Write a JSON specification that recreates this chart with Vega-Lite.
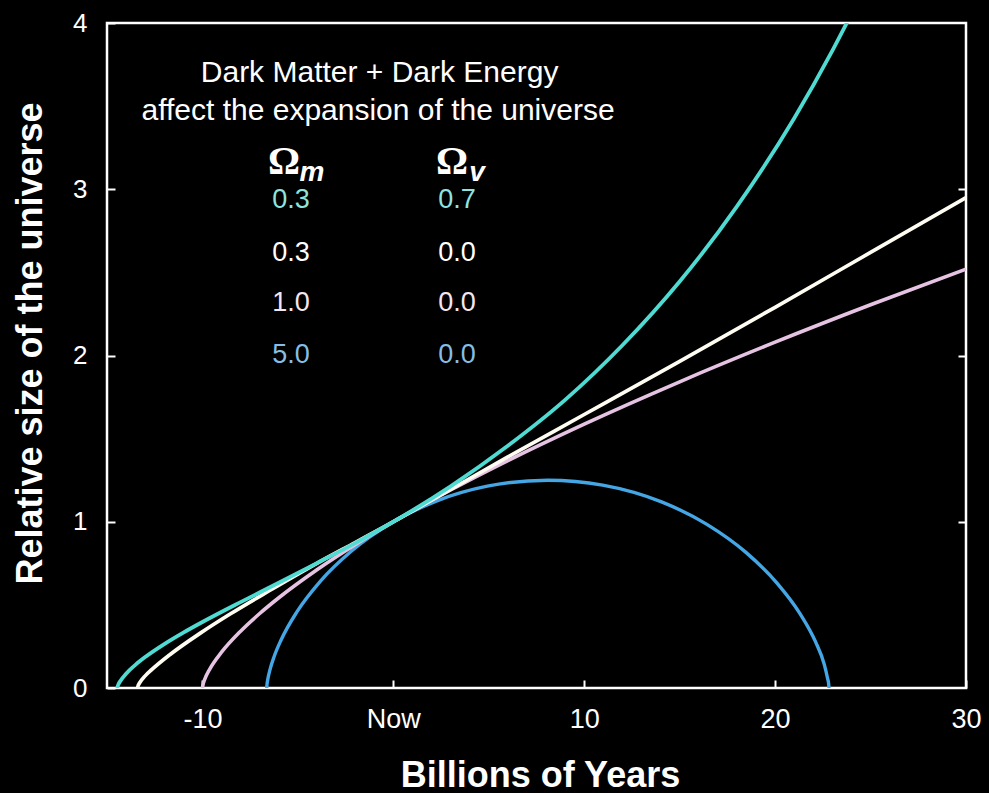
{
  "$schema": "https://vega.github.io/schema/vega-lite/v6.json",
  "width": 859,
  "height": 665,
  "autosize": {"type": "none"},
  "padding": {"left": 107, "top": 23, "right": 23, "bottom": 105},
  "background": "#000000",
  "config": {
    "view": {"stroke": "#ffffff", "strokeWidth": 2.5},
    "font": "Liberation Sans"
  },
  "datasets": {
    "curves": [
      {"series": "b", "t": -6.63, "a": 0},
      {"series": "b", "t": -6.624, "a": 0.0125},
      {"series": "b", "t": -6.58, "a": 0.0493},
      {"series": "b", "t": -6.464, "a": 0.1092},
      {"series": "b", "t": -6.243, "a": 0.1896},
      {"series": "b", "t": -5.887, "a": 0.2873},
      {"series": "b", "t": -5.053, "a": 0.4578},
      {"series": "b", "t": -3.816, "a": 0.6433},
      {"series": "b", "t": -2.16, "a": 0.8271},
      {"series": "b", "t": 0, "a": 1.0},
      {"series": "b", "t": 2.283, "a": 1.1257},
      {"series": "b", "t": 4.925, "a": 1.2139},
      {"series": "b", "t": 8.096, "a": 1.25},
      {"series": "b", "t": 10.964, "a": 1.2205},
      {"series": "b", "t": 14.051, "a": 1.1194},
      {"series": "b", "t": 16.425, "a": 0.9843},
      {"series": "b", "t": 18.456, "a": 0.8171},
      {"series": "b", "t": 20.088, "a": 0.6328},
      {"series": "b", "t": 21.302, "a": 0.4477},
      {"series": "b", "t": 22.115, "a": 0.2785},
      {"series": "b", "t": 22.579, "a": 0.1403},
      {"series": "b", "t": 22.749, "a": 0.0571},
      {"series": "b", "t": 22.805, "a": 0.0249},
      {"series": "b", "t": 22.822, "a": 0},
      {"series": "p", "t": -10, "a": 0},
      {"series": "p", "t": -9.97, "a": 0.0208},
      {"series": "p", "t": -9.9, "a": 0.0464},
      {"series": "p", "t": -9.6, "a": 0.117},
      {"series": "p", "t": -9, "a": 0.2154},
      {"series": "p", "t": -8, "a": 0.342},
      {"series": "p", "t": -7, "a": 0.4481},
      {"series": "p", "t": -6, "a": 0.5429},
      {"series": "p", "t": -4, "a": 0.7114},
      {"series": "p", "t": -2, "a": 0.8618},
      {"series": "p", "t": 0, "a": 1.0},
      {"series": "p", "t": 3, "a": 1.1911},
      {"series": "p", "t": 6, "a": 1.368},
      {"series": "p", "t": 10, "a": 1.5874},
      {"series": "p", "t": 15, "a": 1.842},
      {"series": "p", "t": 20, "a": 2.0801},
      {"series": "p", "t": 25, "a": 2.3052},
      {"series": "p", "t": 30, "a": 2.5198},
      {"series": "w", "t": -13.4, "a": 0},
      {"series": "w", "t": -13.38, "a": 0.01},
      {"series": "w", "t": -13.3, "a": 0.029},
      {"series": "w", "t": -13.0, "a": 0.073},
      {"series": "w", "t": -12.66, "a": 0.11},
      {"series": "w", "t": -11.71, "a": 0.2},
      {"series": "w", "t": -10.11, "a": 0.33},
      {"series": "w", "t": -8.55, "a": 0.445},
      {"series": "w", "t": -6.5, "a": 0.585},
      {"series": "w", "t": -3.82, "a": 0.762},
      {"series": "w", "t": -2, "a": 0.875},
      {"series": "w", "t": 0, "a": 1.0},
      {"series": "w", "t": 3, "a": 1.195},
      {"series": "w", "t": 6, "a": 1.39},
      {"series": "w", "t": 10, "a": 1.645},
      {"series": "w", "t": 15, "a": 1.965},
      {"series": "w", "t": 20, "a": 2.29},
      {"series": "w", "t": 25, "a": 2.62},
      {"series": "w", "t": 30, "a": 2.95},
      {"series": "c", "t": -14.46, "a": 0},
      {"series": "c", "t": -14.44, "a": 0.0106},
      {"series": "c", "t": -14.4, "a": 0.0221},
      {"series": "c", "t": -14.3, "a": 0.0425},
      {"series": "c", "t": -14.0, "a": 0.086},
      {"series": "c", "t": -13.5, "a": 0.1404},
      {"series": "c", "t": -13, "a": 0.186},
      {"series": "c", "t": -12, "a": 0.2641},
      {"series": "c", "t": -11, "a": 0.3331},
      {"series": "c", "t": -10, "a": 0.3969},
      {"series": "c", "t": -8, "a": 0.5166},
      {"series": "c", "t": -6, "a": 0.6327},
      {"series": "c", "t": -4, "a": 0.7512},
      {"series": "c", "t": -2, "a": 0.8719},
      {"series": "c", "t": 0, "a": 1.0},
      {"series": "c", "t": 3, "a": 1.2131},
      {"series": "c", "t": 6, "a": 1.4568},
      {"series": "c", "t": 9, "a": 1.7328},
      {"series": "c", "t": 12, "a": 2.0614},
      {"series": "c", "t": 15, "a": 2.445},
      {"series": "c", "t": 18, "a": 2.897},
      {"series": "c", "t": 21, "a": 3.4274},
      {"series": "c", "t": 23, "a": 3.834},
      {"series": "c", "t": 24, "a": 4.055}
    ],
    "titles": [
      {"t": -0.72, "a": 3.7, "label": "Dark Matter + Dark Energy"},
      {"t": -0.8, "a": 3.471, "label": "affect the expansion of the universe"}
    ],
    "omegas": [
      {"t": -5.73, "a": 3.164, "label": "Ω"},
      {"t": 3.07, "a": 3.164, "label": "Ω"}
    ],
    "subs": [
      {"t": -4.26, "a": 3.1, "label": "m"},
      {"t": 4.38, "a": 3.098, "label": "v"}
    ],
    "numbers": [
      {"series": "c", "t": -5.36, "a": 2.935, "label": "0.3"},
      {"series": "c", "t": 3.34, "a": 2.935, "label": "0.7"},
      {"series": "w", "t": -5.36, "a": 2.617, "label": "0.3"},
      {"series": "w", "t": 3.34, "a": 2.617, "label": "0.0"},
      {"series": "p", "t": -5.36, "a": 2.316, "label": "1.0"},
      {"series": "p", "t": 3.34, "a": 2.316, "label": "0.0"},
      {"series": "b", "t": -5.36, "a": 2.003, "label": "5.0"},
      {"series": "b", "t": 3.34, "a": 2.003, "label": "0.0"}
    ]
  },
  "layer": [
    {
      "data": {"name": "curves"},
      "mark": {"type": "line", "interpolate": "monotone", "clip": true},
      "encoding": {
        "x": {
          "field": "t", "type": "quantitative",
          "scale": {"domain": [-15, 30], "nice": false, "zero": false},
          "axis": {
            "values": [-10, 0, 10, 20, 30],
            "labelExpr": "datum.value == 0 ? 'Now' : '' + datum.value",
            "grid": false, "domain": false,
            "tickSize": -8, "tickColor": "#ffffff", "tickWidth": 2,
            "labelColor": "#ffffff", "labelFontSize": 27, "labelPadding": 26,
            "labelFlush": false, "labelOverlap": false,
            "title": "Billions of Years", "titleColor": "#ffffff",
            "titleFontSize": 36, "titleFontWeight": "bold",
            "titleX": 433, "titleY": 87, "titleBaseline": "middle", "titleAlign": "center"
          }
        },
        "y": {
          "field": "a", "type": "quantitative",
          "scale": {"domain": [0, 4], "nice": false},
          "axis": {
            "orient": "left",
            "values": [0, 1, 2, 3, 4],
            "grid": false, "domain": false,
            "tickSize": -8, "tickColor": "#ffffff", "tickWidth": 2,
            "labelColor": "#ffffff", "labelFontSize": 26, "labelPadding": 28,
            "labelOverlap": false,
            "title": "Relative size of the universe", "titleColor": "#ffffff",
            "titleFontSize": 36, "titleFontWeight": "bold",
            "titleX": -77, "titleY": 320, "titleBaseline": "middle", "titleAlign": "center", "titleAngle": -90
          }
        },
        "color": {
          "field": "series", "type": "nominal",
          "scale": {"domain": ["c", "w", "p", "b"], "range": ["#4fdad2", "#fffdf2", "#e6c3e3", "#44a6e4"]},
          "legend": null
        },
        "strokeWidth": {
          "field": "series", "type": "nominal",
          "scale": {"domain": ["c", "w", "p", "b"], "range": [3.8, 3.4, 2.8, 2.8]},
          "legend": null
        }
      }
    },
    {
      "data": {"name": "numbers"},
      "mark": {"type": "text", "align": "center", "baseline": "middle", "fontSize": 27, "font": "Liberation Sans"},
      "encoding": {
        "x": {"field": "t", "type": "quantitative", "scale": {"domain": [-15, 30], "nice": false, "zero": false}},
        "y": {
          "field": "a", "type": "quantitative",
          "scale": {"domain": [0, 4], "nice": false},
          "axis": {
            "orient": "right", "values": [1, 2, 3], "labels": false, "title": null,
            "grid": false, "domain": false,
            "tickSize": -8, "tickColor": "#ffffff", "tickWidth": 2
          }
        },
        "text": {"field": "label"},
        "color": {
          "field": "series", "type": "nominal",
          "scale": {"domain": ["c", "w", "p", "b"], "range": ["#8fe3df", "#ffffff", "#f3e6f0", "#86bde6"]},
          "legend": null
        }
      }
    },
    {
      "data": {"name": "titles"},
      "mark": {"type": "text", "align": "center", "baseline": "middle", "fontSize": 30, "color": "#ffffff", "font": "Liberation Sans"},
      "encoding": {
        "x": {"field": "t", "type": "quantitative", "scale": {"domain": [-15, 30], "nice": false, "zero": false}},
        "y": {"field": "a", "type": "quantitative", "scale": {"domain": [0, 4], "nice": false}, "axis": null},
        "text": {"field": "label"}
      }
    },
    {
      "data": {"name": "omegas"},
      "mark": {"type": "text", "align": "center", "baseline": "middle", "fontSize": 40, "fontWeight": "bold", "color": "#ffffff", "font": "Liberation Serif"},
      "encoding": {
        "x": {"field": "t", "type": "quantitative", "scale": {"domain": [-15, 30], "nice": false, "zero": false}},
        "y": {"field": "a", "type": "quantitative", "scale": {"domain": [0, 4], "nice": false}, "axis": null},
        "text": {"field": "label"}
      }
    },
    {
      "data": {"name": "subs"},
      "mark": {"type": "text", "align": "center", "baseline": "middle", "fontSize": 28, "fontStyle": "italic", "fontWeight": "bold", "color": "#ffffff", "font": "Liberation Sans"},
      "encoding": {
        "x": {"field": "t", "type": "quantitative", "scale": {"domain": [-15, 30], "nice": false, "zero": false}},
        "y": {"field": "a", "type": "quantitative", "scale": {"domain": [0, 4], "nice": false}, "axis": null},
        "text": {"field": "label"}
      }
    }
  ],
  "resolve": {"scale": {"color": "independent", "y": "independent", "strokeWidth": "independent"}, "axis": {"y": "independent"}}
}
